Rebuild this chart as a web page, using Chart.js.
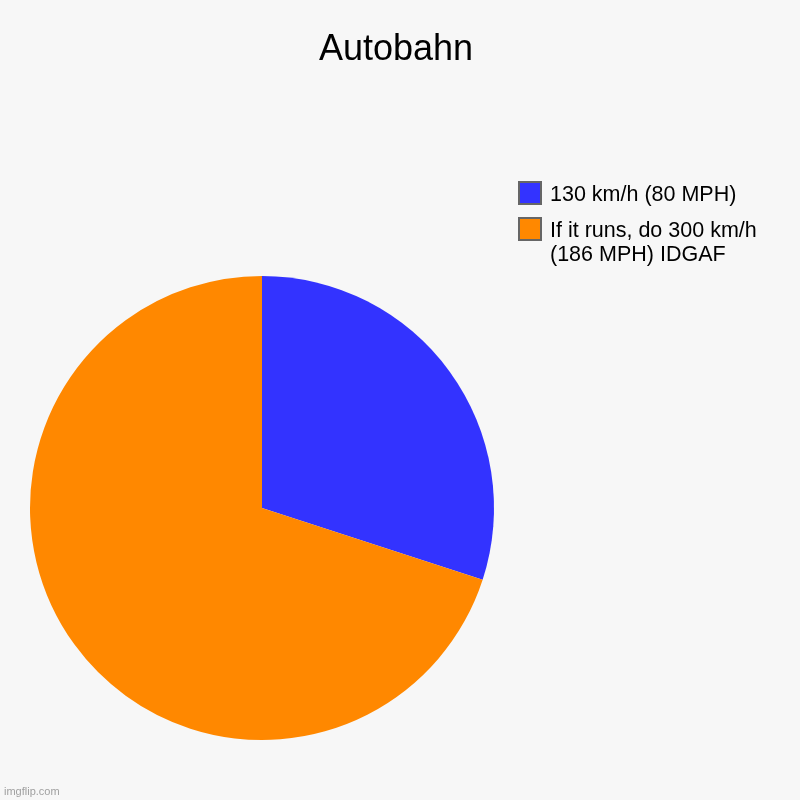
<!DOCTYPE html>
<html>
<head>
<meta charset="utf-8">
<script src="https://cdn.jsdelivr.net/npm/chart.js@4/dist/chart.umd.min.js"></script>
<style>
  html, body { margin: 0; padding: 0; background: #f7f7f7; }
  #wrap { width: 800px; height: 800px; }
</style>
</head>
<body>
<div id="wrap"><canvas id="chart"></canvas></div>
<script>
const chartTitle = 'Autobahn';
const categories = [
    ['130 km/h (80 MPH)'],
    ['If it runs, do 300 km/h', '(186 MPH) IDGAF']
];
const values = [30, 70];
const colors = ['#3333ff', '#ff8800'];

// draws the title, the side legend and the watermark
const decorations = {
    id: 'decorations',
    afterDraw(chart) {
        const ctx = chart.ctx;
        ctx.save();
        ctx.fillStyle = '#000';
        ctx.font = '36px "Liberation Sans", Arial, sans-serif';
        ctx.textAlign = 'center';
        ctx.textBaseline = 'alphabetic';
        ctx.fillText(chartTitle, 396, 60);

        const ds = chart.data.datasets[0];
        let y = 182;
        ctx.textAlign = 'left';
        ctx.font = '21.5px "Liberation Sans", Arial, sans-serif';
        chart.data.labels.forEach((label, i) => {
            ctx.fillStyle = ds.backgroundColor[i];
            ctx.fillRect(519, y, 22, 22);
            ctx.strokeStyle = '#666';
            ctx.lineWidth = 2;
            ctx.strokeRect(519, y, 22, 22);
            ctx.fillStyle = '#000';
            label.forEach((line, j) => {
                ctx.fillText(line, 550, y + 18.5 + j * 24);
            });
            y += 36;
        });

        ctx.fillStyle = '#a0a0a0';
        ctx.font = '11px "Liberation Sans", Arial, sans-serif';
        ctx.fillText('imgflip.com', 4, 795);
        ctx.restore();
    }
};

new Chart(document.getElementById('chart'), {
    type: 'pie',
    data: {
        labels: categories,
        datasets: [{
            data: values,
            backgroundColor: colors,
            borderWidth: 0
        }]
    },
    options: {
        responsive: true,
        maintainAspectRatio: false,
        animation: false,
        layout: {
            padding: { left: 30, right: 306, top: 276, bottom: 60 }
        },
        plugins: {
            legend: { display: false },
            title: { display: false },
            tooltip: { enabled: false }
        }
    },
    plugins: [decorations]
});
</script>
</body>
</html>
